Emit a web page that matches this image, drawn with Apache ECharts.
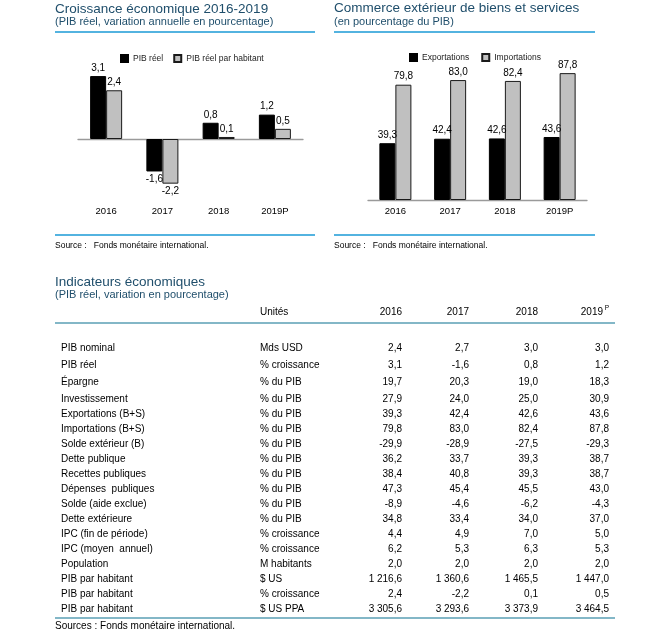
<!DOCTYPE html>
<html>
<head>
<meta charset="utf-8">
<script src="https://cdn.jsdelivr.net/npm/echarts@6/dist/echarts.min.js"></script>
<style>
html,body{margin:0;padding:0;background:#fff;}
#c{width:660px;height:641px;}
</style>
</head>
<body>
<div id="c"></div>
<script>
// ---------- DATA ----------
const years = ['2016', '2017', '2018', '2019P'];
const pibReel = [3.1, -1.6, 0.8, 1.2];
const pibHabitant = [2.4, -2.2, 0.1, 0.5];
const exportations = [39.3, 42.4, 42.6, 43.6];
const importations = [79.8, 83.0, 82.4, 87.8];

const tableYears = ['2016', '2017', '2018', '2019'];
const rowLabels = ['PIB nominal', 'PIB réel', 'Épargne', 'Investissement', 'Exportations (B+S)',
  'Importations (B+S)', 'Solde extérieur (B)', 'Dette publique', 'Recettes publiques',
  'Dépenses  publiques', 'Solde (aide exclue)', 'Dette extérieure', 'IPC (fin de période)',
  'IPC (moyen  annuel)', 'Population', 'PIB par habitant', 'PIB par habitant', 'PIB par habitant'];
const rowUnits = ['Mds USD', '% croissance', '% du PIB', '% du PIB', '% du PIB', '% du PIB', '% du PIB',
  '% du PIB', '% du PIB', '% du PIB', '% du PIB', '% du PIB', '% croissance', '% croissance',
  'M habitants', '$ US', '% croissance', '$ US PPA'];
const val2016 = [2.4, 3.1, 19.7, 27.9, 39.3, 79.8, -29.9, 36.2, 38.4, 47.3, -8.9, 34.8, 4.4, 6.2, 2.0, 1216.6, 2.4, 3305.6];
const val2017 = [2.7, -1.6, 20.3, 24.0, 42.4, 83.0, -28.9, 33.7, 40.8, 45.4, -4.6, 33.4, 4.9, 5.3, 2.0, 1360.6, -2.2, 3293.6];
const val2018 = [3.0, 0.8, 19.0, 25.0, 42.6, 82.4, -27.5, 39.3, 39.3, 45.5, -6.2, 34.0, 7.0, 6.3, 2.0, 1465.5, 0.1, 3373.9];
const val2019 = [3.0, 1.2, 18.3, 30.9, 43.6, 87.8, -29.3, 38.7, 38.7, 43.0, -4.3, 37.0, 5.0, 5.3, 2.0, 1447.0, 0.5, 3464.5];

// ---------- HELPERS ----------
function fr(v) {
  const neg = v < 0;
  let s = Math.abs(v).toFixed(1);
  let [i, d] = s.split('.');
  i = i.replace(/\B(?=(\d{3})+(?!\d))/g, ' ');
  return (neg ? '-' : '') + i + ',' + d;
}
const FONT = '"Liberation Sans", Arial, sans-serif';
const TITLE_COLOR = '#1f4e6b';
const BLUE = '#1a9ad6';
const TEAL = '#5a9fb4';

function txt(text, x, y, size, opts) {
  opts = opts || {};
  return {
    type: 'text', silent: true,
    style: {
      text: text, x: x, y: y,
      font: (opts.weight || 'normal') + ' ' + size + 'px ' + FONT,
      fill: opts.color || '#000',
      align: opts.align || 'left', textAlign: opts.align || 'left',
      verticalAlign: 'middle', textVerticalAlign: 'middle'
    }
  };
}
function hline(x1, x2, y, color, w) {
  return { type: 'line', silent: true, shape: { x1: x1, y1: y, x2: x2, y2: y },
    style: { stroke: color, lineWidth: w } };
}

// ---------- GRAPHIC (titles, table) ----------
const g = [];
g.push(txt('Croissance économique 2016-2019', 55, 9, 13.5, { color: TITLE_COLOR }));
g.push(txt('(PIB réel, variation annuelle en pourcentage)', 55, 22, 11, { color: TITLE_COLOR }));
g.push(hline(55, 315, 32, BLUE, 1.3));
g.push(hline(55, 315, 235, BLUE, 1.3));
g.push(txt('Source :   Fonds monétaire international.', 55, 246, 8.5));

g.push(txt('Commerce extérieur de biens et services', 334, 8, 13.5, { color: TITLE_COLOR }));
g.push(txt('(en pourcentage du PIB)', 334, 22, 11, { color: TITLE_COLOR }));
g.push(hline(334, 595, 32, BLUE, 1.3));
g.push(hline(334, 595, 235, BLUE, 1.3));
g.push(txt('Source :   Fonds monétaire international.', 334, 246, 8.5));

g.push(txt('Indicateurs économiques', 55, 282, 13.5, { color: TITLE_COLOR }));
g.push(txt('(PIB réel, variation en pourcentage)', 55, 295, 11, { color: TITLE_COLOR }));

const colX = [402, 469, 538, 609];
const unitX = 260, labelX = 61;
g.push(txt('Unités', unitX, 312, 10));
tableYears.forEach((y, j) => {
  if (j === 3) {
    g.push(txt(y, colX[j] - 6, 312, 10, { align: 'right' }));
    g.push(txt('P', colX[j], 308, 6.5, { align: 'right' }));
  } else {
    g.push(txt(y, colX[j], 312, 10, { align: 'right' }));
  }
});
g.push(hline(55, 615, 323, TEAL, 1.3));

const cols = [val2016, val2017, val2018, val2019];
rowLabels.forEach((lab, i) => {
  const y = i < 4 ? 348 + i * 17 : 399 + (i - 3) * 15;
  g.push(txt(lab, labelX, y, 10));
  g.push(txt(rowUnits[i], unitX, y, 10));
  cols.forEach((c, j) => g.push(txt(fr(c[i]), colX[j], y, 10, { align: 'right' })));
});
g.push(hline(55, 615, 618, TEAL, 1.3));
g.push(txt('Sources : Fonds monétaire international.', 55, 626, 10));

// ---------- CHART ----------
const labelCommon = {
  show: true, position: 'outside', distance: 3, fontSize: 10, color: '#000',
  fontFamily: FONT, formatter: p => fr(p.value)
};
const chart = echarts.init(document.getElementById('c'), null, { renderer: 'canvas' });
chart.setOption({
  animation: false,
  backgroundColor: '#fff',
  textStyle: { fontFamily: FONT },
  legend: [
    { data: ['PIB réel', 'PIB réel par habitant'], left: 120, top: 54, padding: 0, itemWidth: 7, itemHeight: 7,
      itemGap: 10, textStyle: { fontSize: 8.5, color: '#222', fontFamily: FONT }, icon: 'rect' },
    { data: ['Exportations', 'Importations'], left: 409, top: 53, padding: 0, itemWidth: 7, itemHeight: 7,
      itemGap: 12, textStyle: { fontSize: 8.5, color: '#222', fontFamily: FONT }, icon: 'rect' }
  ],
  grid: [
    { left: 78, top: 57.8, width: 225, height: 142.1 },
    { left: 368, top: 55.5, width: 219, height: 144.5 }
  ],
  xAxis: [
    { type: 'category', gridIndex: 0, data: years,
      axisLine: { show: true, onZero: true, lineStyle: { color: '#9a9a9a', width: 1.3 } },
      axisTick: { show: false }, axisLabel: { show: false } },
    { type: 'category', gridIndex: 0, data: years, position: 'bottom',
      axisLine: { show: false, onZero: false }, axisTick: { show: false },
      axisLabel: { show: true, fontSize: 9.5, color: '#000', margin: 6, fontFamily: FONT } },
    { type: 'category', gridIndex: 1, data: years,
      axisLine: { show: true, lineStyle: { color: '#9a9a9a', width: 1.3 } },
      axisTick: { show: false },
      axisLabel: { show: true, fontSize: 9.5, color: '#000', margin: 6, fontFamily: FONT } }
  ],
  yAxis: [
    { type: 'value', gridIndex: 0, min: -3, max: 4, show: false, splitLine: { show: false } },
    { type: 'value', gridIndex: 1, min: 0, max: 100, show: false, splitLine: { show: false } }
  ],
  series: [
    { name: 'PIB réel', type: 'bar', xAxisIndex: 0, yAxisIndex: 0, data: pibReel,
      barWidth: 16, barGap: '0%', itemStyle: { color: '#000', borderColor: '#000', borderWidth: 1 },
      label: labelCommon },
    { name: 'PIB réel par habitant', type: 'bar', xAxisIndex: 0, yAxisIndex: 0, data: pibHabitant,
      barWidth: 16, barGap: '0%', itemStyle: { color: '#c0c0c0', borderColor: '#1a1a1a', borderWidth: 1 },
      label: labelCommon },
    { name: 'Exportations', type: 'bar', xAxisIndex: 2, yAxisIndex: 1, data: exportations,
      barWidth: 16, barGap: '0%', itemStyle: { color: '#000', borderColor: '#000', borderWidth: 1 },
      label: labelCommon },
    { name: 'Importations', type: 'bar', xAxisIndex: 2, yAxisIndex: 1, data: importations,
      barWidth: 16, barGap: '0%', itemStyle: { color: '#c0c0c0', borderColor: '#1a1a1a', borderWidth: 1 },
      label: labelCommon }
  ],
  graphic: g
});
</script>
</body>
</html>
